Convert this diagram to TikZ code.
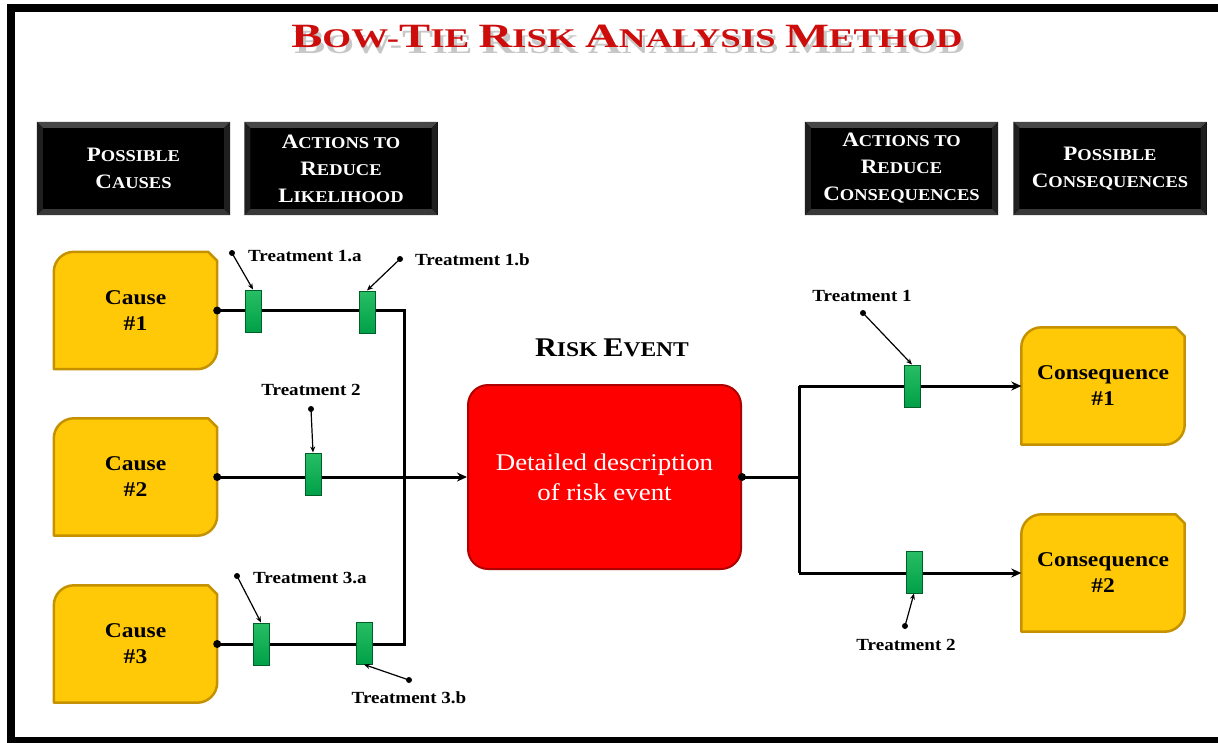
\documentclass[tikz,border=0pt]{standalone}
\usepackage{fontspec}
\setmainfont{Liberation Serif}[FakeStretch=1.12]
\newfontfamily\titlefont{Liberation Serif}[FakeStretch=1.37]
\usetikzlibrary{arrows.meta,calc}
\pgfdeclarelayer{background}
\pgfsetlayers{background,main}
\definecolor{gold}{RGB}{255,201,8}
\definecolor{golddark}{RGB}{196,146,0}
\definecolor{riskred}{RGB}{255,0,0}
\definecolor{riskdark}{RGB}{175,0,0}
\definecolor{trgreen}{RGB}{0,160,72}
\definecolor{trlight}{RGB}{40,190,100}
\definecolor{trdark}{RGB}{0,95,40}
\definecolor{titlered}{RGB}{205,12,12}
\newcommand\TB[1]{{\fontsize{34}{40}\selectfont #1}}
\newcommand\TS[1]{{\fontsize{27}{40}\selectfont #1}}
\newcommand\HB[1]{{\fontsize{20.5}{27}\selectfont #1}}
\newcommand\HS[1]{{\fontsize{16.5}{27}\selectfont #1}}
\newcommand\RB[1]{{\fontsize{27}{30}\selectfont #1}}
\newcommand\RS[1]{{\fontsize{21}{30}\selectfont #1}}
\newcommand\titletext{\TB{B}\TS{OW-}\TB{T}\TS{IE }\TB{R}\TS{ISK }\TB{A}\TS{NALYSIS }\TB{M}\TS{ETHOD}}
\newcommand\snipbox[1]{%
  \begin{pgfonlayer}{background}
  \filldraw[fill=gold, draw=golddark, line width=2.5pt, line join=round]
    (#1.south west) -- ([yshift=-20pt]#1.north west)
    .. controls ([yshift=-9pt]#1.north west) and ([xshift=9pt]#1.north west) .. ([xshift=20pt]#1.north west)
    -- ([xshift=-9pt]#1.north east) -- ([yshift=-9pt]#1.north east)
    -- ([yshift=20pt]#1.south east)
    .. controls ([yshift=9pt]#1.south east) and ([xshift=-9pt]#1.south east) .. ([xshift=-20pt]#1.south east) -- cycle;
  \end{pgfonlayer}}
\newcommand\bevel[1]{%
  \fill[black!72] (#1.north west) -- (#1.north east) -- ([shift={(-6pt,-6pt)}]#1.north east) -- ([shift={(6pt,-6pt)}]#1.north west) -- cycle;
  \fill[black!88] (#1.north west) -- ([shift={(6pt,-6pt)}]#1.north west) -- ([shift={(6pt,6pt)}]#1.south west) -- (#1.south west) -- cycle;
  \fill[black!88] (#1.north east) -- ([shift={(-6pt,-6pt)}]#1.north east) -- ([shift={(-6pt,6pt)}]#1.south east) -- (#1.south east) -- cycle;
  \fill[black!78] (#1.south west) -- (#1.south east) -- ([shift={(-6pt,6pt)}]#1.south east) -- ([shift={(6pt,6pt)}]#1.south west) -- cycle;}
\begin{document}
\begin{tikzpicture}[x=1pt,y=-1pt,
  headbox/.style={fill=black, minimum width=193pt, minimum height=93pt, inner sep=0pt},
  headtext/.style={text=white, align=center, font=\bfseries\fontsize{20}{27}\selectfont},
  yellowbox/.style={minimum width=163pt, minimum height=117pt, inner sep=0pt,
    align=center, font=\bfseries\fontsize{21}{26}\selectfont},
  riskbox/.style={fill=riskred, draw=riskdark, line width=2pt, rounded corners=20pt,
    minimum width=273pt, minimum height=184pt, inner sep=0pt, text=white, align=center,
    font=\fontsize{24}{30}\selectfont},
  trbox/.style={top color=trlight, bottom color=trgreen, draw=trdark, line width=1pt, minimum width=16pt,
    minimum height=42pt, inner sep=0pt},
  tlabel/.style={font=\bfseries\fontsize{17}{20}\selectfont, inner sep=0pt},
  flow/.style={line width=3pt, line join=miter},
  flowarrow/.style={flow, -{Stealth[length=10pt,width=9pt]}},
  callout/.style={line width=1.2pt, -{Stealth[length=6pt,width=5pt]}},
  dot/.style={fill=black}]
\useasboundingbox (0,0) rectangle (1218,742);
\begin{pgfonlayer}{background}
\fill[white] (0,0) rectangle (1218,742);
\end{pgfonlayer}
% frame
\draw[line width=8pt] (11,8) rectangle (1240,741);

% title with shadow
\node[anchor=base, text=black, text opacity=0.22, font=\titlefont\bfseries\fontsize{27}{40}\selectfont] (titleshadow) at (630,53) {\titletext};
\node[anchor=base, text=titlered, font=\titlefont\bfseries\fontsize{27}{40}\selectfont] (title) at (627,47) {\titletext};

% header boxes
\node[headbox] (h1) at (133.5,168.5) {};
\node[headbox] (h2) at (341,168.5) {};
\node[headbox] (h3) at (901.5,168.5) {};
\node[headbox] (h4) at (1110,168.5) {};
\bevel{h1}\bevel{h2}\bevel{h3}\bevel{h4}
\node[headtext] (h1t) at (h1) {\HB{P}\HS{OSSIBLE}\\\HB{C}\HS{AUSES}};
\node[headtext] (h2t) at (h2) {\HB{A}\HS{CTIONS TO}\\\HB{R}\HS{EDUCE}\\\HB{L}\HS{IKELIHOOD}};
\node[headtext] (h3t) at (h3) {\HB{A}\HS{CTIONS TO}\\\HB{R}\HS{EDUCE}\\\HB{C}\HS{ONSEQUENCES}};
\node[headtext] (h4t) at (h4) {\HB{P}\HS{OSSIBLE}\\\HB{C}\HS{ONSEQUENCES}};

% causes and consequences
\node[yellowbox] (c1) at (135.5,310.5) {Cause\\\#1};
\node[yellowbox] (c2) at (135.5,477) {Cause\\\#2};
\node[yellowbox] (c3) at (135.5,644) {Cause\\\#3};
\node[yellowbox] (q1) at (1103,386) {Consequence\\\#1};
\node[yellowbox] (q2) at (1103,573) {Consequence\\\#2};
\snipbox{c1}\snipbox{c2}\snipbox{c3}\snipbox{q1}\snipbox{q2}

% risk event
\node[riskbox] (re) at (604.5,477) {Detailed description\\of risk event};
\node[anchor=base, font=\bfseries\fontsize{21}{30}\selectfont] (relabel) at (612,356) {\RB{R}\RS{ISK }\RB{E}\RS{VENT}};

% junctions
\coordinate (j1) at (404,310.5);
\coordinate (j3) at (404,644);
\coordinate (k0) at (799,477);
\coordinate (k1) at (799,386);
\coordinate (k2) at (799,573);

\begin{pgfonlayer}{background}
\draw[flow] (c1.east) -- (j1) -- (j3) -- (c3.east);
\draw[flowarrow] (c2.east) -- (re.west);
\draw[flow] (re.east) -- (k0);
\draw[flow] (k1) -- (k2);
\draw[flowarrow] (k1) -- (q1.west);
\draw[flowarrow] (k2) -- (q2.west);
\end{pgfonlayer}
\fill[dot] (c1.east) circle (4pt);
\fill[dot] (c2.east) circle (4pt);
\fill[dot] (c3.east) circle (4pt);
\fill[dot] (re.east) circle (4pt);

% treatments
\node[trbox] (t1a) at (253,311) {};
\node[trbox] (t1b) at (367,312) {};
\node[trbox] (t2) at (313,474) {};
\node[trbox] (t3a) at (261,644) {};
\node[trbox] (t3b) at (364,643) {};
\node[trbox] (r1) at (912,386) {};
\node[trbox] (r2) at (914,572) {};

% callouts
\coordinate (d1a) at (232,253);
\coordinate (d1b) at (400,259);
\coordinate (d2) at (311,409);
\coordinate (d3a) at (237,576);
\coordinate (d3b) at (409,680);
\coordinate (dr1) at (863,313);
\coordinate (dr2) at (905,626);
\foreach \d in {d1a,d1b,d2,d3a,d3b,dr1,dr2} \fill[dot] (\d) circle (3pt);
\draw[callout] (d1a) -- (t1a.north);
\draw[callout] (d1b) -- (t1b.north);
\draw[callout] (d2) -- (t2.north);
\draw[callout] (d3a) -- (t3a.north);
\draw[callout] (d3b) -- (t3b.south);
\draw[callout] (dr1) -- (r1.north);
\draw[callout] (dr2) -- (r2.south);

\node[tlabel, anchor=west] (l1a) at (248,256) {Treatment 1.a};
\node[tlabel, anchor=west] (l1b) at (415,260) {Treatment 1.b};
\node[tlabel] (l2) at (311,390) {Treatment 2};
\node[tlabel, anchor=west] (l3a) at (253,578) {Treatment 3.a};
\node[tlabel] (l3b) at (409,698) {Treatment 3.b};
\node[tlabel] (lr1) at (862,296) {Treatment 1};
\node[tlabel] (lr2) at (906,645) {Treatment 2};
\end{tikzpicture}
\end{document}
